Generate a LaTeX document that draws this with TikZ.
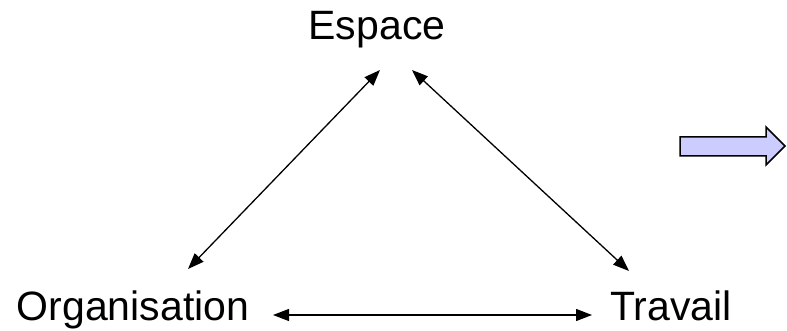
\documentclass[tikz,border=0pt]{standalone}
\usepackage{fontspec}
\setmainfont{Liberation Sans}
\usetikzlibrary{arrows.meta}
\begin{document}
\begin{tikzpicture}[x=1pt,y=-1pt,
  lbl/.style={font=\fontsize{41}{41}\selectfont, inner sep=0pt, anchor=base},
  link/.style={line width=1.3pt, {Triangle[length=16pt,width=12pt]}-{Triangle[length=16pt,width=12pt]}},
  blockarrow/.style={draw=black, line width=1.5pt, fill=blue!20, line join=miter}]
\useasboundingbox (0,0) rectangle (787,331);
\node[lbl] (esp) at (377,40) {Espace};
\node[lbl] (org) at (133,320) {Organisation};
\node[lbl] (trav) at (671,320) {Travail};
\coordinate (e1) at (380,70);
\coordinate (o1) at (188,269);
\coordinate (e2) at (412,70);
\coordinate (t1) at (629,271);
\coordinate (o2) at (273,315);
\coordinate (t2) at (592,315);
\draw[link] (e1) -- (o1);
\draw[link] (e2) -- (t1);
\draw[link] (o2) -- (t2);
\draw[blockarrow] (680,137) -- (766,137) -- (766,127) -- (785,146) -- (766,165) -- (766,156) -- (680,156) -- cycle;
\end{tikzpicture}
\end{document}
